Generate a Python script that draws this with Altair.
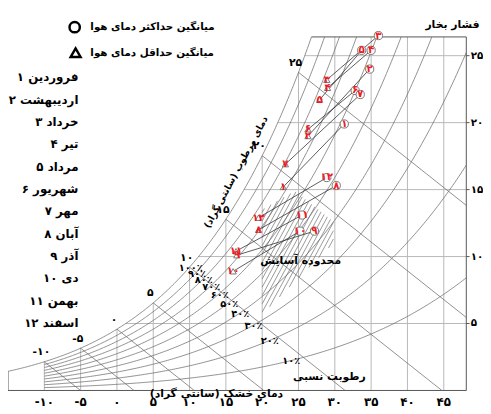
import altair as alt
import numpy as np
import pandas as pd

# ---------------- values ----------------
MONTH_NAMES = ["فروردین", "اردیبهشت", "خرداد", "تیر", "مرداد", "شهریور",
               "مهر", "آبان", "آذر", "دی", "بهمن", "اسفند"]
MONTH_NUMS = ["۱", "۲", "۳", "۴", "۵", "۶", "۷", "۸", "۹", "۱۰", "۱۱", "۱۲"]
# mean maximum (circle) and mean minimum (triangle): dry-bulb temp (°C), vapour pressure
MAX_TEMP = [31.3, 34.8, 36.0, 35.0, 33.7, 32.8, 33.5, 30.2, 27.2, 25.2, 25.5, 28.9]
MAX_VP = [19.9, 24.0, 26.5, 25.4, 25.4, 22.4, 22.1, 15.3, 11.9, 11.9, 13.1, 15.9]
MIN_TEMP = [22.9, 26.3, 28.9, 29.0, 27.9, 26.3, 23.2, 19.5, 16.5, 16.0, 16.4, 19.5]
MIN_VP = [15.2, 19.0, 23.2, 22.6, 21.7, 19.5, 16.9, 12.0, 10.1, 8.9, 10.4, 12.9]

# comfort zone outline (dry-bulb temp, vapour pressure)
COMFORT_TEMP = [20.0, 29.8, 29.8, 24.5, 20.0]
COMFORT_VP = [5.7, 11.0, 12.6, 14.9, 13.5]

X_TICKS = [-10, -5, 0, 5, 10, 15, 20, 25, 30, 35, 40, 45]
X_TICK_LABELS = ["-۱۰", "-۵", "۰", "۵", "۱۰", "۱۵", "۲۰", "۲۵", "۳۰", "۳۵", "۴۰", "۴۵"]
Y_TICKS = [5, 10, 15, 20, 25]
Y_TICK_LABELS = ["۵", "۱۰", "۱۵", "۲۰", "۲۵"]
WET_BULB = [-10, -5, 0, 5, 10, 15, 20, 25]
WET_BULB_LABELS = ["-۱۰", "-۵", "۰", "۵", "۱۰", "۱۵", "۲۰", "۲۵"]
RH_LEVELS = [100, 90, 80, 70, 60, 50, 40, 30, 20, 10]
RH_LABELS = ["۱۰۰٪", "۹۰٪", "۸۰٪", "۷۰٪", "۶۰٪", "۵۰٪", "۴۰٪", "۳۰٪", "۲۰٪", "۱۰٪"]

LEGEND_MAX = "میانگین حداکثر دمای هوا"
LEGEND_MIN = "میانگین حداقل دمای هوا"
Y_TITLE = "فشار بخار"
X_TITLE = "دمای خشک (سانتی گراد)"
WB_TITLE = "دمای مرطوب (سانتی گراد)"
RH_TITLE = "رطوبت نسبی"
COMFORT_TITLE = "محدوده آسایش"

# ---------------- chart geometry ----------------
T_MIN, T_MAX, VP_MAX = -15.0, 48.1, 26.4
GAMMA = 0.43  # psychrometric slope (mmHg / °C)
FA = "DejaVu Sans"
RLM = "\u200f"
LRM = "\u200e"


def sat_vp(t):
    t = np.asarray(t, dtype=float)
    return 4.5802 * np.exp(17.27 * t / (t + 237.3))


def sat_temp(e):
    a = np.log(np.asarray(e, dtype=float) / 4.5802)
    return 237.3 * a / (17.27 - a)


xs = alt.Scale(domain=[T_MIN, T_MAX], nice=False, zero=False)
ys = alt.Scale(domain=[0, VP_MAX], nice=False, zero=False)


def X(f="T"):
    return alt.X(f"{f}:Q", scale=xs, axis=None)


def Y(f="e"):
    return alt.Y(f"{f}:Q", scale=ys, axis=None)


# grid segments
grid = []
for t in X_TICKS:
    grid.append(dict(T=t, e=0.0, T2=t, e2=float(min(sat_vp(t), VP_MAX))))
for e in Y_TICKS:
    grid.append(dict(T=float(sat_temp(e)), e=e, T2=T_MAX, e2=e))
grid_df = pd.DataFrame(grid)

# frame: left edge, top edge, bottom edge, right edge, right ticks
frame = [
    dict(T=T_MIN, e=0.0, T2=T_MIN, e2=float(sat_vp(T_MIN))),
    dict(T=float(sat_temp(VP_MAX)), e=VP_MAX, T2=T_MAX, e2=VP_MAX),
    dict(T=T_MIN, e=0.0, T2=T_MAX, e2=0.0),
    dict(T=T_MAX, e=0.0, T2=T_MAX, e2=VP_MAX),
]
for e in Y_TICKS:
    frame.append(dict(T=T_MAX, e=e, T2=T_MAX + 0.45, e2=e))
frame_df = pd.DataFrame(frame)

# wet bulb lines
wet = []
for tw in WET_BULB:
    e0 = float(sat_vp(tw))
    t_end = min(tw + e0 / GAMMA, T_MAX)
    wet.append(dict(T=tw, e=e0, T2=t_end, e2=e0 - GAMMA * (t_end - tw)))
wet_df = pd.DataFrame(wet)

# relative humidity curves (incl. saturation)
rows = []
t_top = float(sat_temp(VP_MAX))
ts = np.linspace(T_MIN, t_top, 220)
for i, t in enumerate(ts):
    rows.append(dict(curve=100, o=i, T=t, e=float(sat_vp(t))))
for r in RH_LEVELS[1:]:
    t_end = float(min(T_MAX, sat_temp(VP_MAX * 100.0 / r)))
    ts = np.linspace(-10, t_end, 220)
    for i, t in enumerate(ts):
        rows.append(dict(curve=r, o=i, T=t, e=float(r / 100.0 * sat_vp(t))))
curve_df = pd.DataFrame(rows)


# hatch of comfort zone
def hatch_segments(px, py, slope, step):
    pts = list(zip(px, py))
    n = len(pts)
    cvals = [p[1] - slope * p[0] for p in pts]
    segs = []
    for c in np.arange(min(cvals) + step / 2, max(cvals), step):
        hits = []
        for i in range(n):
            (x1, y1), (x2, y2) = pts[i], pts[(i + 1) % n]
            f1 = y1 - slope * x1 - c
            f2 = y2 - slope * x2 - c
            if f1 == f2:
                continue
            if (f1 <= 0 <= f2) or (f2 <= 0 <= f1):
                s = f1 / (f1 - f2)
                hits.append((x1 + s * (x2 - x1), y1 + s * (y2 - y1)))
        if len(hits) >= 2:
            hits.sort()
            segs.append(dict(T=hits[0][0], e=hits[0][1], T2=hits[-1][0], e2=hits[-1][1]))
    return pd.DataFrame(segs)


hatch_df = hatch_segments(COMFORT_TEMP, COMFORT_VP, 1.0, 0.62)

# month data
pts_df = pd.DataFrame(dict(num=MONTH_NUMS, T=MAX_TEMP, e=MAX_VP, T2=MIN_TEMP, e2=MIN_VP))
max_df = pd.DataFrame(dict(label=MONTH_NUMS, T=MAX_TEMP, e=MAX_VP))
min_df = pd.DataFrame(dict(label=MONTH_NUMS, T=MIN_TEMP, e=MIN_VP))

# axis labels
xlab_df = pd.DataFrame(dict(label=[LRM + s for s in X_TICK_LABELS], T=X_TICKS, e=[-0.85] * len(X_TICKS)))
ylab_df = pd.DataFrame(dict(label=[LRM + s for s in Y_TICK_LABELS], T=[T_MAX + 0.6] * len(Y_TICKS), e=Y_TICKS))

# labels for wet bulb lines (just left/above saturation point)
wb_lab_df = pd.DataFrame(dict(label=[LRM + s for s in WET_BULB_LABELS],
                              T=[t - 0.4 for t in WET_BULB],
                              e=[float(sat_vp(t)) + 0.7 for t in WET_BULB]))

# RH labels where each curve crosses a guide line running down from 10°C wet bulb
rh_T, rh_e = [], []
for r in RH_LEVELS:
    tt = np.linspace(5, 30, 5001)
    f = r / 100.0 * sat_vp(tt) - (9.1 - 0.5 * (tt - 9.9))
    k = int(np.argmin(np.abs(f)))
    rh_T.append(float(tt[k]) + 0.3)
    rh_e.append(float(r / 100.0 * sat_vp(tt[k])))
rh_lab_df = pd.DataFrame(dict(label=[LRM + s for s in RH_LABELS], T=rh_T, e=rh_e))

# month list on the left (number shown on the left of the name)
month_df = pd.DataFrame(dict(label=[f"{RLM}{m} {n}" for n, m in zip(MONTH_NUMS, MONTH_NAMES)],
                             T=[-5.3] * 12,
                             e=[23.38 - 1.667 * i for i in range(12)]))


# ---------------- layers ----------------
def seg(df, **mark):
    return alt.Chart(df).mark_rule(**mark).encode(x=X(), y=Y(), x2="T2:Q", y2="e2:Q")


grid_layer = seg(grid_df, color="#b8b8b8", strokeWidth=1)
frame_layer = seg(frame_df, color="#555", strokeWidth=1)
wet_layer = seg(wet_df, color="#6a6a6a", strokeWidth=0.75)
hatch_layer = seg(hatch_df, color="#6e6e6e", strokeWidth=0.7)
conn_layer = seg(pts_df, color="#333", strokeWidth=0.8)

curve_layer = alt.Chart(curve_df).mark_line(color="#6a6a6a", strokeWidth=0.75).encode(
    x=X(), y=Y(), detail="curve:N", order="o:Q")

circle_layer = alt.Chart(max_df).mark_point(
    shape="circle", filled=True, fill="white", stroke="#777", strokeWidth=1, size=70, opacity=1
).encode(x=X(), y=Y())
tri_layer = alt.Chart(min_df).mark_point(
    shape="triangle-up", filled=True, fill="white", stroke="#777", strokeWidth=1, size=40, opacity=1
).encode(x=X(), y=Y())


def txt(df, **mark):
    return alt.Chart(df).mark_text(font=FA, **mark).encode(x=X(), y=Y(), text="label:N")


max_lab = txt(max_df, color="#ee1c24", fontSize=10.5, fontWeight="bold", align="center", baseline="middle")
min_lab = txt(min_df, color="#ee1c24", fontSize=10.5, fontWeight="bold", align="center", baseline="middle")
wb_lab = txt(wb_lab_df, color="black", fontSize=11, fontWeight="bold", align="center", baseline="middle")
rh_lab = txt(rh_lab_df, color="black", fontSize=10, fontWeight="bold", align="center", baseline="middle")
month_lab = txt(month_df, color="black", fontSize=12, fontWeight="bold", align="right", baseline="middle")
xlab = txt(xlab_df, color="black", fontSize=12, fontWeight="bold", align="center", baseline="middle")
ylab = txt(ylab_df, color="black", fontSize=10.5, fontWeight="bold", align="left", baseline="middle")

ann_df = pd.DataFrame([
    dict(label=RLM + Y_TITLE + RLM, T=46.2, e=27.27),
    dict(label=RLM + COMFORT_TITLE + RLM, T=25.3, e=9.65),
    dict(label=RLM + RH_TITLE + RLM, T=29.25, e=0.99),
    dict(label=RLM + X_TITLE + RLM, T=13.7, e=-0.25),
])
ann_lab = txt(ann_df, color="black", fontSize=11, fontWeight="bold", align="center", baseline="middle")
wb_title = txt(pd.DataFrame([dict(label=RLM + WB_TITLE + RLM, T=16.4, e=16.3)]),
               color="black", fontSize=9.5, fontWeight="bold", align="center",
               baseline="middle", angle=298)

leg_df = pd.DataFrame([dict(label=LEGEND_MAX, T=-3.66, e=27.13, sT=-5.82),
                       dict(label=LEGEND_MIN, T=-3.66, e=25.22, sT=-5.69)])
leg_text = txt(leg_df, color="black", fontSize=10.5, fontWeight="bold", align="left", baseline="middle")
leg_circle = alt.Chart(leg_df.iloc[[0]]).mark_point(
    shape="circle", filled=False, stroke="black", strokeWidth=2.5, size=110, opacity=1
).encode(x=X("sT"), y=Y())
leg_tri = alt.Chart(leg_df.iloc[[1]]).mark_point(
    shape="triangle-up", filled=False, stroke="black", strokeWidth=2.5, size=100, opacity=1
).encode(x=X("sT"), y=Y())

chart = alt.layer(
    grid_layer, frame_layer, curve_layer, wet_layer, hatch_layer, conn_layer,
    circle_layer, tri_layer, max_lab, min_lab, wb_lab, rh_lab, month_lab,
    xlab, ylab, ann_lab, wb_title, leg_text, leg_circle, leg_tri,
).properties(
    width=466, height=359.5,
    padding={"left": 0, "top": 26, "right": 17, "bottom": 20},
    autosize=alt.AutoSizeParams(type="none"),
    background="white",
).configure_view(stroke=None)

chart.save("out.html", embed_options={"renderer": "svg", "actions": False})
